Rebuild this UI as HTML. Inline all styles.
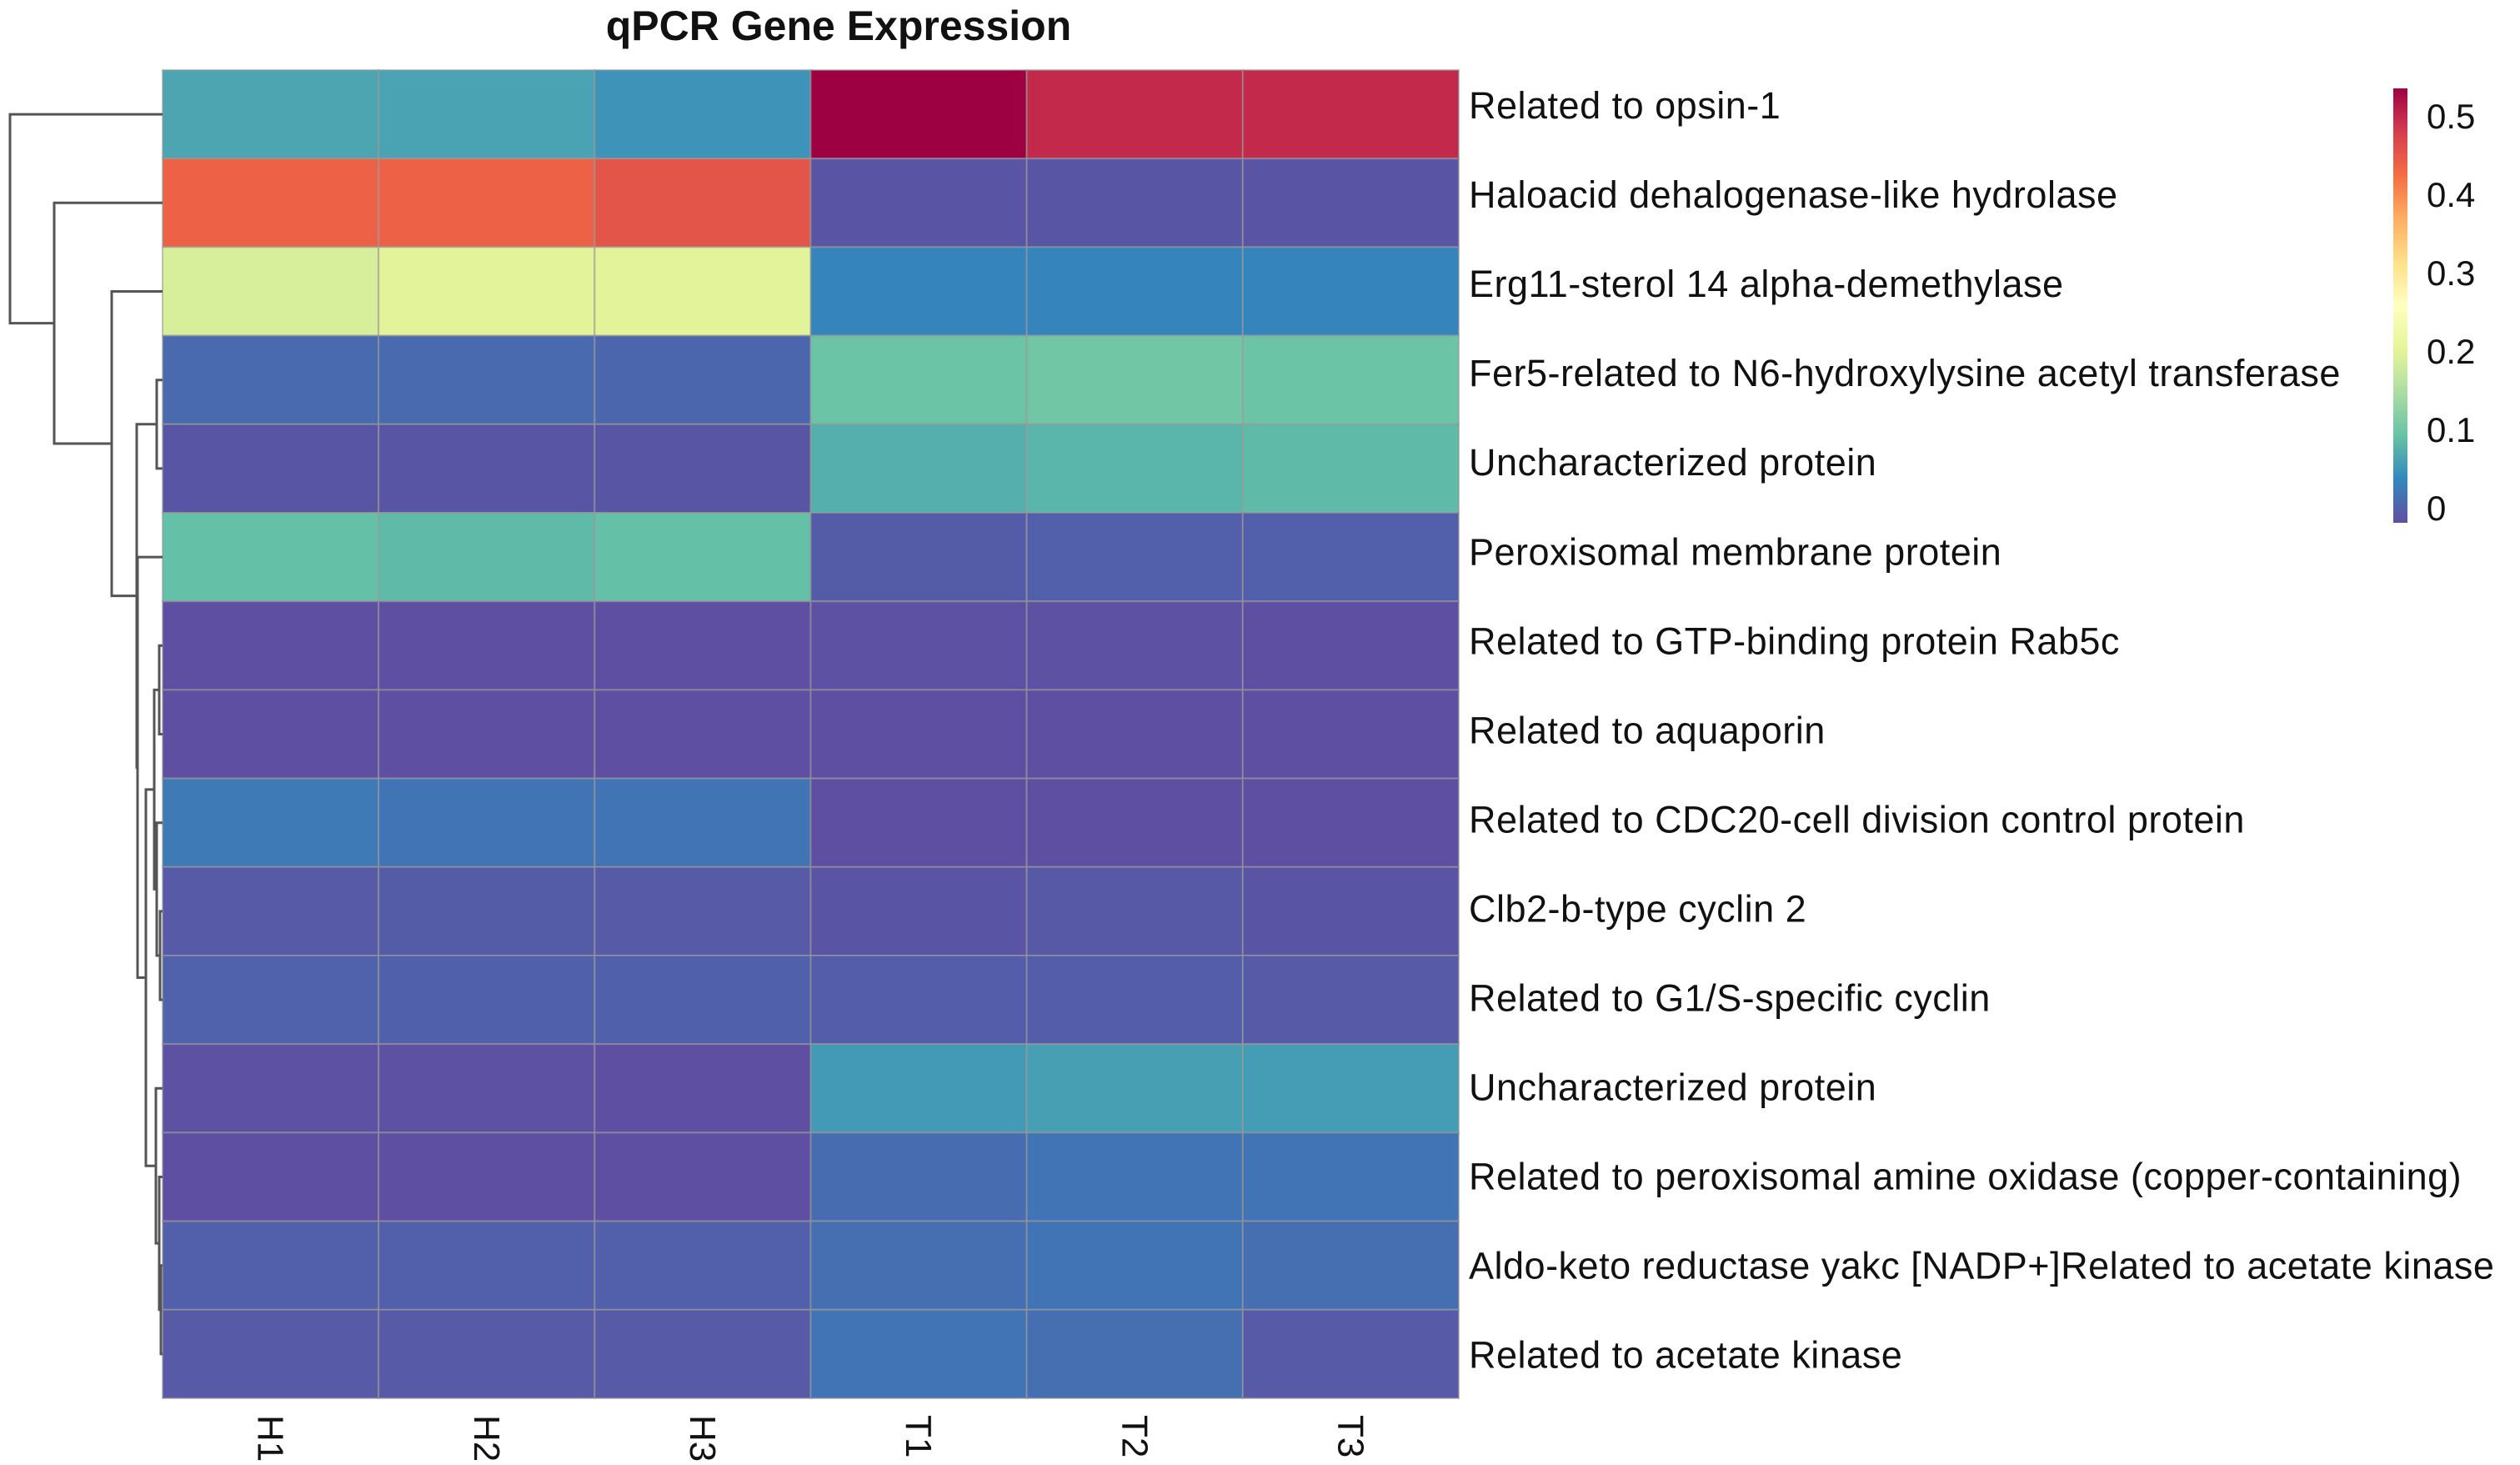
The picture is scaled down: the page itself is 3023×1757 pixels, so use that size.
<!DOCTYPE html>
<html><head><meta charset="utf-8"><style>
html,body{margin:0;padding:0;background:#fff;}
svg{display:block;font-family:"Liberation Sans",sans-serif;}
</style></head><body>
<svg id="chart" width="3023" height="1757" viewBox="0 0 3023 1757" xmlns="http://www.w3.org/2000/svg">
<text x="1006" y="48" text-anchor="middle" font-size="50" font-weight="bold" fill="#111">qPCR Gene Expression</text>
<g id="cells"></g>
<g id="rowlabels"></g>
<g id="collabels"></g>
<g id="dendro"></g>
<defs><linearGradient id="cbgrad" x1="0" y1="1" x2="0" y2="0"></linearGradient></defs>
<g id="colorbar"></g>
</svg>
<script>
const columns = ["H1","H2","H3","T1","T2","T3"];
const genes = ["Related to opsin-1","Haloacid dehalogenase-like hydrolase","Erg11-sterol 14 alpha-demethylase","Fer5-related to N6-hydroxylysine acetyl transferase","Uncharacterized protein","Peroxisomal membrane protein","Related to GTP-binding protein Rab5c","Related to aquaporin","Related to CDC20-cell division control protein","Clb2-b-type cyclin 2","Related to G1/S-specific cyclin","Uncharacterized protein","Related to peroxisomal amine oxidase (copper-containing)","Aldo-keto reductase yakc [NADP+]Related to acetate kinase","Related to acetate kinase"];
const expression = [
 [0.080,0.078,0.065,0.535,0.500,0.500],
 [0.440,0.440,0.455,0.005,0.006,0.005],
 [0.200,0.210,0.210,0.050,0.050,0.050],
 [0.025,0.025,0.022,0.110,0.115,0.110],
 [0.006,0.006,0.006,0.090,0.095,0.100],
 [0.105,0.100,0.105,0.012,0.015,0.015],
 [0.000,0.000,0.000,0.002,0.002,0.000],
 [0.000,0.000,0.000,0.000,0.000,0.000],
 [0.040,0.035,0.035,0.000,0.000,0.000],
 [0.010,0.012,0.010,0.005,0.008,0.005],
 [0.018,0.016,0.016,0.013,0.013,0.010],
 [0.002,0.002,0.000,0.070,0.075,0.072],
 [0.000,0.000,0.000,0.028,0.035,0.035],
 [0.015,0.015,0.015,0.030,0.035,0.030],
 [0.010,0.010,0.010,0.035,0.030,0.010]
];
const cbTicks = [0,0.1,0.2,0.3,0.4,0.5];
// dendrogram merges: [childA, childB, height]; negative -k refers to merge k-1
const merges = [
 [9,10,3],[13,14,2],[12,-2,4],[6,7,4],[8,-1,7],[-4,-5,10],[11,-3,8],[-6,-7,20],[5,-8,30],[3,4,7],[-10,-9,31],[2,-11,61],[1,-12,130],[0,-13,183]
];
const SVGNS="http://www.w3.org/2000/svg";
const X0=195,X1=1750,Y0=84,Y1=1677;
const cw=(X1-X0)/columns.length, rh=(Y1-Y0)/genes.length;
const vmin=0, vmax=0.535;
const stops=["#5e4fa2","#3288bd","#66c2a5","#abdda4","#e6f598","#ffffbf","#fee08b","#fdae61","#f46d43","#d53e4f","#9e0142"];
function hex(h){return [1,3,5].map(i=>parseInt(h.substr(i,2),16));}
function color(v){let t=(v-vmin)/(vmax-vmin);t=Math.max(0,Math.min(1,t));const p=t*10,i=Math.min(9,Math.floor(p)),f=p-i;const a=hex(stops[i]),b=hex(stops[i+1]);return "rgb("+a.map((c,k)=>Math.round(c+(b[k]-c)*f)).join(",")+")";}
function xPos(c){return X0+c*cw;}
function yPos(r){return Y0+r*rh;}
function mk(tag,attrs,parent){const e=document.createElementNS(SVGNS,tag);for(const k in attrs)e.setAttribute(k,attrs[k]);parent.appendChild(e);return e;}
const cells=document.getElementById('cells');
expression.forEach((row,r)=>row.forEach((v,c)=>{
 const e=mk('rect',{x:xPos(c),y:yPos(r),width:cw,height:rh,fill:color(v),stroke:"#9a9a9a","stroke-width":2,"stroke-opacity":0.6},cells);
 
 
}));
const rl=document.getElementById('rowlabels');
genes.forEach((g,r)=>{
 const t=mk('text',{x:X1+12,y:yPos(r)+rh/2+5+0.83*r,"font-size":45,"letter-spacing":0.5,fill:"#111"},rl);
 t.textContent=g;
 
 
});
const cl=document.getElementById('collabels');
columns.forEach((c,i)=>{
 const cx=xPos(i)+cw/2;
 const t=mk('text',{x:0,y:0,"font-size":44,fill:"#111",transform:"translate("+(cx-15)+","+(Y1+20)+") rotate(90)"},cl);
 t.textContent=c;
 
 
});
const dg=document.getElementById('dendro');
const hScale=1.0;
const nodes=[];
function info(ch){if(ch>=0)return {x:X0,y:yPos(ch)+rh/2};return nodes[-ch-1];}
merges.forEach(m=>{
 const a=info(m[0]),b=info(m[1]);const x=X0-m[2]*hScale;
 const p=mk('path',{d:"M"+a.x+","+a.y+"H"+x+"V"+b.y+"H"+b.x,fill:"none",stroke:"#555","stroke-width":3},dg);
 
 
 nodes.push({x:x,y:(a.y+b.y)/2});
});
const CBX=2871,CBW=17,CBT=106,CBB=627;
function cbTickY(v){return 609-v*940;}
const grad=document.getElementById('cbgrad');
stops.forEach((s,i)=>{mk('stop',{offset:(i*10)+"%","stop-color":s},grad);});
const cb=document.getElementById('colorbar');
const bar=mk('rect',{x:CBX,y:CBT,width:CBW,height:CBB-CBT,fill:"url(#cbgrad)"},cb);


cbTicks.forEach(v=>{
 const t=mk('text',{x:CBX+40,y:cbTickY(v)+15,"font-size":42,fill:"#111"},cb);
 t.textContent=String(v);
 
 
});
</script>
</body></html>
